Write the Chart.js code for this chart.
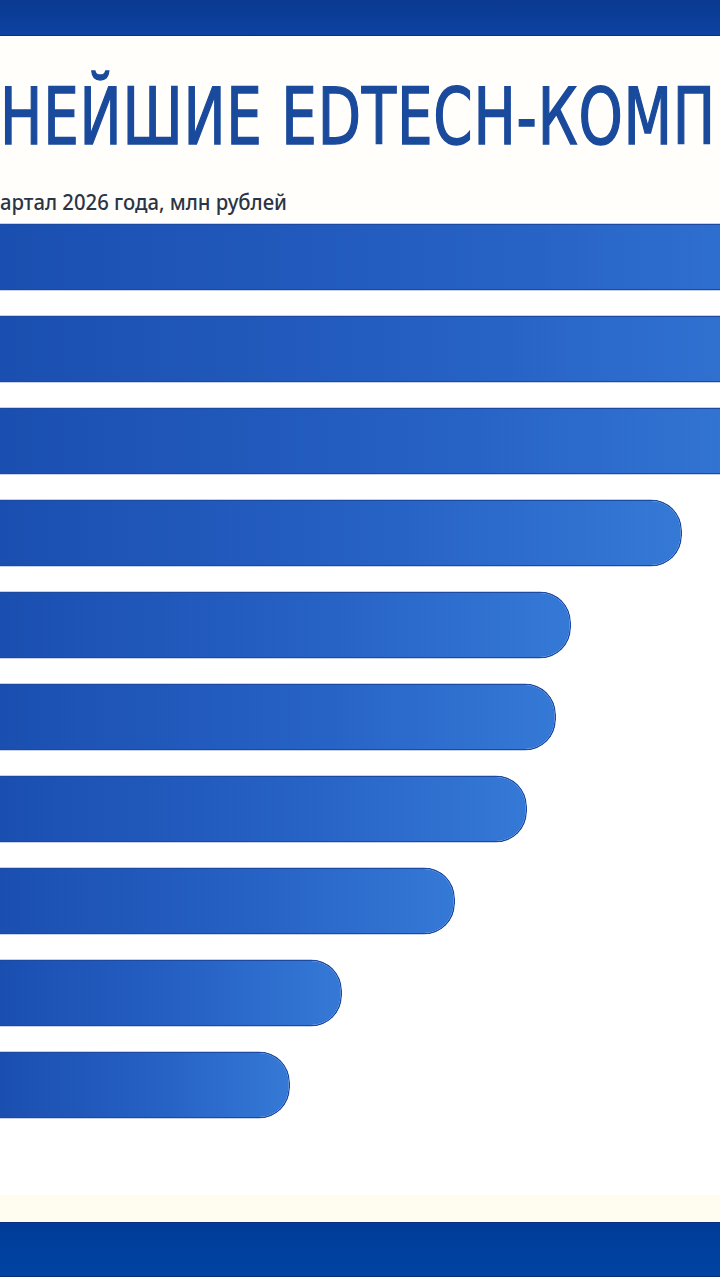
<!DOCTYPE html>
<html>
<head>
<meta charset="utf-8">
<script src="https://cdn.jsdelivr.net/npm/chart.js@4.4.1/dist/chart.umd.min.js"></script>
<style>
  html, body { margin:0; padding:0; }
  body { width:720px; height:1280px; position:relative; overflow:hidden; background:#ffffff; }
  #head { position:absolute; left:0; top:35px; width:720px; height:185px; background:#fffefa; }
  #topband { position:absolute; left:0; top:0; width:720px; height:35px; background:linear-gradient(180deg,#0a3990,#0d43a2); border-bottom:1px solid #083080; }
  #botband { position:absolute; left:0; top:1222px; width:720px; height:53px; background:linear-gradient(180deg,#003c98,#0043a3); border-top:1px solid #062f80; border-bottom:1px solid #0a2f78; }
  #cream { position:absolute; left:0; top:1195px; width:720px; height:27px; background:#fffcf0; }
  .fit { position:absolute; left:0; white-space:nowrap; transform-origin:0 0; }
  #title { top:72px; font-family:"Liberation Sans Narrow","DejaVu Sans Condensed","Roboto",sans-serif; font-size:78px; line-height:90px; color:#1a4a9c; letter-spacing:1px; -webkit-text-stroke:1.4px #1a4a9c; }
  #subtitle { top:187px; font-family:"Noto Sans","Open Sans",sans-serif; font-size:21px; line-height:30px; color:#2a3447; font-weight:500; }
  #wrap { position:absolute; left:0; top:211px; width:720px; height:920px; }
</style>
</head>
<body>
<div id="head"></div>
<div id="topband"></div>
<div id="title" class="fit">НЕЙШИЕ EDTECH-КОМП</div>
<div id="subtitle" class="fit">артал 2026 года, млн рублей</div>
<div id="wrap"><canvas id="c"></canvas></div>
<div id="cream"></div>
<div id="botband"></div>
<script>
// Categories (labels cut off in the reference) and values (in the chart's visible units)
const categories = ["1", "2", "3", "4", "5", "6", "7", "8", "9", "10"];
const values = [900, 850, 800, 682, 571, 556, 527, 455, 342, 290];
const axisMax = 720;

function fitWidth(id, target) {
  const el = document.getElementById(id);
  const w = el.getBoundingClientRect().width;
  el.style.transform = 'scaleX(' + (target / w) + ')';
}
fitWidth('title', 716);
fitWidth('subtitle', 287);

const ctx = document.getElementById('c');
new Chart(ctx, {
  type: 'bar',
  data: {
    labels: categories,
    datasets: [{
      data: values,
      backgroundColor: (c) => {
        const chart = c.chart;
        const area = chart.chartArea;
        if (!area) return '#2a64c4';
        const xs = chart.scales.x;
        const end = xs.getPixelForValue(c.raw === undefined ? axisMax : c.raw);
        const g = chart.ctx.createLinearGradient(area.left, 0, Math.max(end, area.left + 1), 0);
        g.addColorStop(0, '#1a4fb0');
        g.addColorStop(0.55, '#2661c4');
        g.addColorStop(1, '#3579d6');
        return g;
      },
      borderColor: '#1c4aa2',
      borderWidth: 1.5,
      borderSkipped: 'start',
      borderRadius: { topLeft: 0, bottomLeft: 0, topRight: 31, bottomRight: 31 },
      barPercentage: 0.73,
      categoryPercentage: 1.0
    }]
  },
  options: {
    indexAxis: 'y',
    responsive: true,
    maintainAspectRatio: false,
    animation: false,
    layout: { padding: 0 },
    plugins: { legend: { display: false }, tooltip: { enabled: false }, title: { display: false } },
    scales: {
      x: { display: false, min: 0, max: axisMax },
      y: { display: false }
    }
  }
});
</script>
</body>
</html>
